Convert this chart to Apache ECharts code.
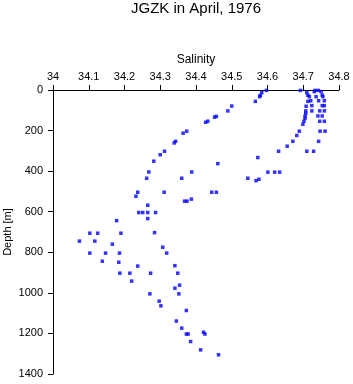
<!DOCTYPE html>
<html>
<head>
<meta charset="utf-8">
<script src="https://cdn.jsdelivr.net/npm/echarts@6/dist/echarts.min.js"></script>
<style>
  html, body { margin: 0; padding: 0; background: #fff; }
  #chart { width: 353px; height: 384px; }
</style>
</head>
<body>
<div id="chart"></div>
<script>
// Salinity samples (psu)
const salinity = [
  34.597, 34.584, 34.580, 34.578, 34.566, 34.500, 34.489, 34.457, 34.452, 34.433,
  34.427, 34.374, 34.364, 34.343, 34.339, 34.312, 34.300, 34.282, 34.268, 34.262,
  34.237, 34.232, 34.265, 34.240, 34.251, 34.265, 34.287, 34.265, 34.178, 34.190,
  34.103, 34.125, 34.074, 34.117, 34.166, 34.103, 34.147, 34.186, 34.138, 34.184,
  34.237, 34.187, 34.215, 34.220, 34.284, 34.307, 34.318, 34.273, 34.341, 34.349,
  34.354, 34.341, 34.352, 34.271, 34.297, 34.302, 34.373, 34.345, 34.360, 34.373,
  34.378, 34.385, 34.421, 34.425, 34.413, 34.463,
  34.388, 34.360, 34.311, 34.368, 34.375, 34.387, 34.461, 34.444, 34.457, 34.545,
  34.568, 34.576, 34.601, 34.620, 34.634, 34.573, 34.631, 34.655, 34.671, 34.682,
  34.689, 34.699, 34.702, 34.705, 34.705, 34.707, 34.707, 34.708, 34.713, 34.721,
  34.724, 34.724, 34.692, 34.710, 34.713, 34.717, 34.731, 34.736, 34.733, 34.742,
  34.750, 34.753, 34.755, 34.743, 34.759, 34.753, 34.759, 34.746, 34.759, 34.741,
  34.753, 34.746, 34.759, 34.747, 34.761, 34.743, 34.710, 34.729
];

// Matching depths (m)
const depth = [
  2, 13, 26, 33, 56, 79, 103, 130, 134, 154,
  159, 203, 213, 253, 261, 302, 319, 351, 404, 435,
  504, 524, 568, 604, 604, 604, 604, 634, 644, 706,
  706, 706, 745, 745, 760, 804, 804, 804, 844, 849,
  868, 903, 903, 942, 703, 775, 804, 903, 866, 903,
  962, 977, 1005, 1005, 1041, 1064, 1087, 1139, 1174, 1203,
  1203, 1240, 1194, 1203, 1281, 1305,
  404, 435, 504, 548, 548, 538, 363, 504, 504, 435,
  447, 440, 405, 405, 405, 333, 302, 277, 253, 224,
  203, 169, 154, 140, 129, 115, 103, 80, 56, 53,
  77, 103, 2, 13, 26, 33, 8, 33, 2, 2,
  8, 25, 33, 53, 53, 77, 77, 103, 103, 128,
  128, 154, 154, 203, 203, 253, 302, 302
];

const points = salinity.map((s, i) => [s, depth[i]]);

const font = 'Liberation Sans, Arial, Helvetica, sans-serif';

const chart = echarts.init(document.getElementById('chart'));

chart.setOption({
  animation: false,
  backgroundColor: '#fff',
  title: {
    text: 'JGZK in April, 1976',
    left: 196,
    top: 1,
    padding: 0,
    textAlign: 'center',
    textStyle: { fontFamily: font, fontSize: 15, fontWeight: 'normal', color: '#000' }
  },
  grid: { left: 53, right: 14, top: 90, bottom: 10, outerBoundsMode: 'none', containLabel: false },
  xAxis: {
    type: 'value',
    position: 'top',
    min: 34,
    max: 34.8,
    interval: 0.1,
    name: 'Salinity',
    nameLocation: 'middle',
    nameGap: 21,
    nameTextStyle: { fontFamily: font, fontSize: 12, color: '#000' },
    axisLine: { lineStyle: { color: '#000', width: 1 } },
    axisTick: { length: 5, lineStyle: { color: '#000' } },
    axisLabel: { fontFamily: font, fontSize: 11, color: '#000', margin: 8 },
    splitLine: { show: false }
  },
  yAxis: {
    type: 'value',
    inverse: true,
    min: 0,
    max: 1400,
    interval: 200,
    name: 'Depth [m]',
    nameLocation: 'middle',
    nameGap: 40,
    nameRotate: 90,
    nameMoveOverlap: false,
    nameTextStyle: { fontFamily: font, fontSize: 11, color: '#000' },
    axisLine: { lineStyle: { color: '#000', width: 1 } },
    axisTick: { length: 5, lineStyle: { color: '#000' } },
    axisLabel: { fontFamily: font, fontSize: 11, color: '#000', margin: 10, formatter: v => String(v) },
    splitLine: { show: false }
  },
  series: [{
    type: 'scatter',
    data: points,
    symbol: 'rect',
    symbolSize: 3.5,
    itemStyle: { color: '#0000ff' }
  }]
});
</script>
</body>
</html>
